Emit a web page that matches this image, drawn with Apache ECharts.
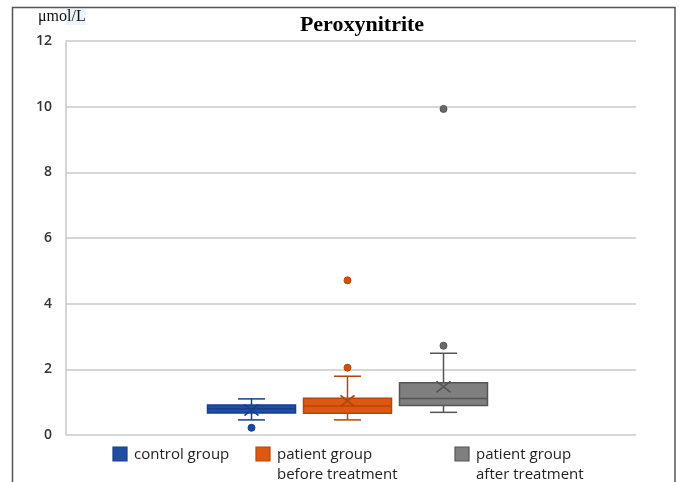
<!DOCTYPE html>
<html><head><meta charset="utf-8">
<script src="https://cdn.jsdelivr.net/npm/echarts@6/dist/echarts.min.js"></script>
<style>html,body{margin:0;padding:0;background:#fff}#c{width:680px;height:482px}</style>
</head><body><div id="c"></div>
<script>
const categories = ['control group', 'patient group\nbefore treatment', 'patient group\nafter treatment'];
const boxControl = [0.46, 0.67, 0.80, 0.91, 1.10];
const boxBefore  = [0.46, 0.66, 0.88, 1.12, 1.79];
const boxAfter   = [0.69, 0.90, 1.11, 1.59, 2.49];
const means      = [0.76, 1.04, 1.47];
const outControl = [0.22];
const outBefore  = [2.05, 4.71];
const outAfter   = [2.72, 9.93];
const yTicks     = [0, 2, 4, 6, 8, 10, 12];

const fills   = ['#1f4ea3', '#e0580f', '#7f7f7f'];
const borders = ['#173f8c', '#b4470b', '#555555'];
const dotFills = ['#1a45a0', '#d24f0a', '#6a6a6a'];

const chart = echarts.init(document.getElementById('c'), null, {renderer: 'canvas'});
const boxes = [boxControl, boxBefore, boxAfter];
const outs = [outControl, outBefore, outAfter];
const outPts = [];
outs.forEach((arr, i) => arr.forEach(v => outPts.push({value: [i, v], itemStyle: {color: dotFills[i], borderColor: borders[i], opacity: 1}})));

const legendX = [113, 256, 455];
const legendGraphics = [];
categories.forEach((name, i) => {
  legendGraphics.push({type: 'rect', shape: {x: legendX[i], y: 447, width: 14, height: 14},
    style: {fill: fills[i], stroke: borders[i], lineWidth: 1.2}});
  legendGraphics.push({type: 'text', x: legendX[i] + 21, y: 445,
    style: {text: name, font: '15px "Open Sans", sans-serif', fill: '#222', lineHeight: 20, textVerticalAlign: 'top'}});
});

function renderBox(params, api) {
  const i = api.value(0);
  const p = [1, 2, 3, 4, 5].map(k => api.coord([i, api.value(k)]));
  const cx = p[0][0];
  const band = api.size([1, 0])[0];
  const bw = band * 88 / 96;
  const cw = 27;
  const st = {stroke: borders[i], lineWidth: 1.5, fill: 'none'};
  return {type: 'group', children: [
    {type: 'line', shape: {x1: cx, y1: p[3][1], x2: cx, y2: p[4][1]}, style: st},
    {type: 'line', shape: {x1: cx, y1: p[0][1], x2: cx, y2: p[1][1]}, style: st},
    {type: 'line', shape: {x1: cx - cw / 2, y1: p[4][1], x2: cx + cw / 2, y2: p[4][1]}, style: st},
    {type: 'line', shape: {x1: cx - cw / 2, y1: p[0][1], x2: cx + cw / 2, y2: p[0][1]}, style: st},
    {type: 'rect', shape: {x: cx - bw / 2, y: p[3][1], width: bw, height: p[1][1] - p[3][1]},
      style: {fill: fills[i], stroke: borders[i], lineWidth: 1.5}},
    {type: 'line', shape: {x1: cx - bw / 2, y1: p[2][1], x2: cx + bw / 2, y2: p[2][1]}, style: st}
  ]};
}

chart.setOption({
  animation: false,
  title: {text: 'Peroxynitrite', left: 357, top: 9, textAlign: 'center',
    textStyle: {fontFamily: '"Liberation Serif", serif', fontWeight: 'bold', fontSize: 22, color: '#000'}},
  grid: [
    {left: 66, right: 44, top: 41, bottom: 47},
    {left: 203.5, width: 288, top: 41, bottom: 47}
  ],
  xAxis: [
    {type: 'category', gridIndex: 0, data: [''], axisLine: {show: false}, axisTick: {show: false}, axisLabel: {show: false}},
    {type: 'category', gridIndex: 1, data: categories, axisLine: {show: false}, axisTick: {show: false}, axisLabel: {show: false}}
  ],
  yAxis: [
    {type: 'value', gridIndex: 0, min: 0, max: 12, interval: 2,
      name: 'μmol/L', nameLocation: 'end', nameGap: 16,
      nameTextStyle: {fontFamily: '"Liberation Serif", serif', fontSize: 16, color: '#111', align: 'left', padding: [0, 0, 0, -28], backgroundColor: '#eef4fb'},
      axisLine: {show: true, lineStyle: {color: '#c8c8c8', width: 1.5}}, axisTick: {show: false},
      splitLine: {lineStyle: {color: '#c8c8c8', width: 1.5}},
      axisLabel: {margin: 14, fontFamily: '"Open Sans", sans-serif', fontWeight: 600, fontSize: 14, color: '#333',
        formatter: v => yTicks.includes(v) ? String(v) : ''}},
    {type: 'value', gridIndex: 1, min: 0, max: 12, show: false, splitLine: {show: false}}
  ],
  graphic: [
    {type: 'polyline', shape: {points: [[12.5, 482], [12.5, 7.5], [675, 7.5], [675, 482]]},
      style: {fill: 'none', stroke: '#555', lineWidth: 1.5}, z: 10},
    ...legendGraphics
  ],
  series: [
    {type: 'custom', xAxisIndex: 1, yAxisIndex: 1, renderItem: renderBox,
      encode: {x: 0, y: [1, 2, 3, 4, 5]},
      data: boxes.map((b, i) => [i, ...b])},
    {type: 'scatter', xAxisIndex: 1, yAxisIndex: 1, symbol: 'path://M0,0L14,10M14,0L0,10', symbolSize: [14, 11],
      data: means.map((m, i) => ({value: [i, m], itemStyle: {color: 'none', borderColor: borders[i], borderWidth: 1.7, opacity: 1}})), z: 5},
    {type: 'scatter', xAxisIndex: 1, yAxisIndex: 1, symbol: 'circle', symbolSize: 7,
      itemStyle: {borderWidth: 1, opacity: 1}, data: outPts, z: 5}
  ]
});
</script></body></html>
